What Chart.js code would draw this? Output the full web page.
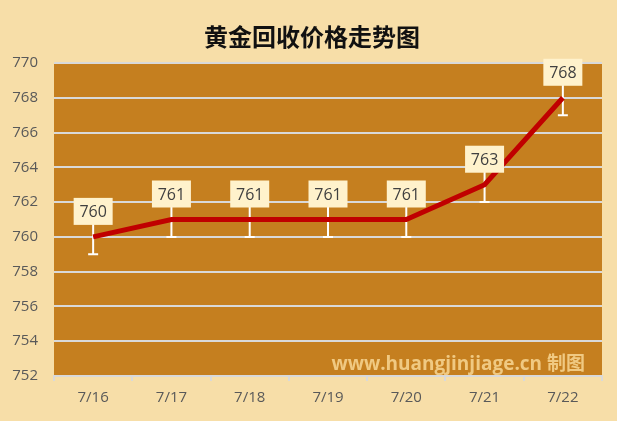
<!DOCTYPE html>
<html>
<head>
<meta charset="utf-8">
<script src="https://cdn.jsdelivr.net/npm/chart.js@4/dist/chart.umd.min.js"></script>
<style>
  html, body { margin: 0; padding: 0; background: #F7DEA8; }
  #wrap { width: 617px; height: 421px; }
</style>
</head>
<body>
<div id="wrap"><canvas id="c" width="617" height="421"></canvas></div>
<script>
// Daily gold recycling prices (yuan / gram)
const dates = ['7/16', '7/17', '7/18', '7/19', '7/20', '7/21', '7/22'];
const prices = [760, 761, 761, 761, 761, 763, 768];
const errorRange = [1, 1, 1, 1, 1, 1, 1];
const yMin = 752, yMax = 770, yStep = 2;

const titleText = '黄金回收价格走势图';
const markText = 'www.huangjinjiage.cn 制图';

const pageBg = '#F7DEA8';
const plotBg = '#C57F1F';
const gridColor = '#D9D9D9';
const lineColor = '#C00000';
const labelBox = '#FFF2CC';
const textColor = '#595959';

const decor = {
  id: 'decor',
  beforeDraw(chart) {
    const { ctx, chartArea: a } = chart;
    ctx.save();
    ctx.fillStyle = pageBg;
    ctx.fillRect(0, 0, chart.width, chart.height);
    ctx.fillStyle = plotBg;
    ctx.fillRect(a.left, a.top, a.right - a.left, a.bottom - a.top);
    // title
    ctx.fillStyle = '#111';
    ctx.font = 'bold 24px "Noto Sans CJK SC"';
    ctx.textAlign = 'center';
    ctx.textBaseline = 'middle';
    ctx.fillText(titleText, 312, 37);
    ctx.restore();
  },
  beforeDatasetsDraw(chart) {
    const { ctx, scales: { x, y } } = chart;
    ctx.save();
    // watermark
    ctx.fillStyle = 'rgba(250, 220, 155, 0.8)';
    ctx.font = 'bold 19px "Open Sans", "Noto Sans CJK SC"';
    ctx.textAlign = 'right';
    ctx.textBaseline = 'middle';
    ctx.fillText(markText, 585, 365);
    // error bars
    ctx.strokeStyle = '#FFFFFF';
    ctx.lineWidth = 2;
    prices.forEach((v, i) => {
      const px = x.getPixelForValue(i);
      const yTop = y.getPixelForValue(v + errorRange[i]);
      const yBot = y.getPixelForValue(v - errorRange[i]);
      ctx.beginPath();
      ctx.moveTo(px, yTop);
      ctx.lineTo(px, yBot);
      ctx.moveTo(px - 5, yBot);
      ctx.lineTo(px + 5, yBot);
      ctx.stroke();
    });
    ctx.restore();
  },
  afterDatasetsDraw(chart) {
    const { ctx, scales: { x, y } } = chart;
    ctx.save();
    ctx.font = '16px "Open Sans"';
    ctx.textAlign = 'center';
    ctx.textBaseline = 'middle';
    prices.forEach((v, i) => {
      const px = x.getPixelForValue(i);
      const py = y.getPixelForValue(v);
      const w = 39, h = 27;
      const bottom = py - 12;
      ctx.fillStyle = labelBox;
      ctx.fillRect(px - w / 2, bottom - h, w, h);
      ctx.fillStyle = '#404040';
      ctx.fillText(String(v), px, bottom - h / 2 + 1);
    });
    ctx.restore();
  }
};

new Chart(document.getElementById('c'), {
  type: 'line',
  data: {
    labels: dates,
    datasets: [{
      data: prices,
      borderColor: lineColor,
      borderWidth: 5,
      pointRadius: 0,
      tension: 0,
      fill: false
    }]
  },
  options: {
    responsive: false,
    animation: false,
    layout: { padding: { top: 63, right: 15, left: 0, bottom: 0 } },
    plugins: { legend: { display: false }, title: { display: false }, tooltip: { enabled: false } },
    scales: {
      x: {
        offset: true,
        grid: { display: true, offset: true, drawOnChartArea: false, color: gridColor, lineWidth: 2, tickLength: 5 },
        border: { display: true, color: gridColor, width: 2 },
        ticks: { color: textColor, font: { family: 'Open Sans', size: 15 }, padding: 8, maxRotation: 0 },
        afterFit(s) { s.height = 45; }
      },
      y: {
        min: yMin, max: yMax,
        ticks: { stepSize: yStep, color: textColor, font: { family: 'Open Sans', size: 15 }, padding: 16 },
        grid: { color: gridColor, lineWidth: 2, drawTicks: false },
        border: { display: false },
        afterFit(s) { s.width = 54; }
      }
    }
  },
  plugins: [decor]
});
</script>
</body>
</html>
